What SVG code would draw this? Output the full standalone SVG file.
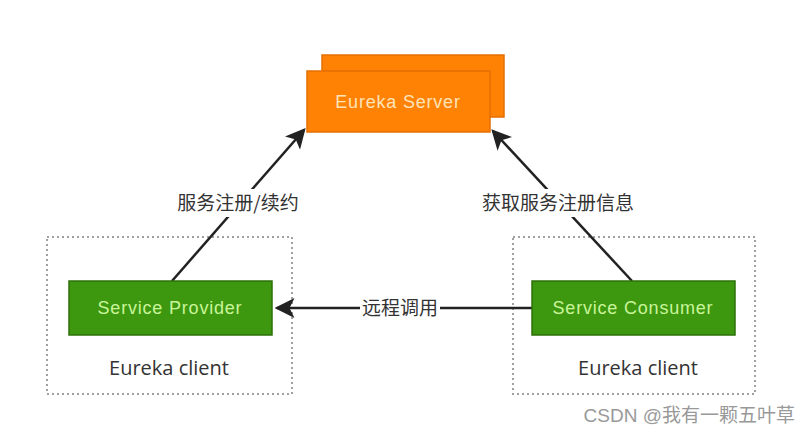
<svg xmlns="http://www.w3.org/2000/svg" width="810" height="437" viewBox="0 0 810 437">
<style>
.orange{fill:#FF8205;stroke:#E46F00;stroke-width:1.5}
.green{fill:#3E980F;stroke:#2C700A;stroke-width:1.5}
.dot{fill:none;stroke:#a0a0a0;stroke-width:2;stroke-dasharray:2 3}
.lt{font-family:"Liberation Sans",Arial,sans-serif;font-size:18px;letter-spacing:0.8px;text-anchor:middle}
.cl{font-family:"Open Sans","DejaVu Sans",sans-serif;font-size:20px;fill:#333;text-anchor:middle}
.cn{font-family:"Noto Sans CJK SC",sans-serif;font-size:19px;fill:#333;text-anchor:middle}
.conn{stroke:#222;stroke-width:2.5;fill:none;marker-end:url(#ah)}
</style>
<defs>
<marker id="ah" markerWidth="8" markerHeight="8" refX="7" refY="4" orient="auto" markerUnits="strokeWidth">
<path d="M0,0 L8,4 L0,8 L2,4 Z" fill="#222"/>
</marker>
</defs>
<rect width="810" height="437" fill="#fff"/>
<g id="provider-client">
<rect class="dot" x="47" y="237" width="245" height="157"/>
<text class="cl" x="169" y="375">Eureka client</text>
</g>
<g id="consumer-client">
<rect class="dot" x="513" y="237" width="242" height="157"/>
<text class="cl" x="638" y="375">Eureka client</text>
</g>
<g id="connectors">
<line class="conn" x1="172" y1="281" x2="304" y2="130"/>
<line class="conn" x1="632" y1="281" x2="493" y2="131"/>
<line class="conn" x1="532" y1="308" x2="277" y2="308"/>
<rect x="170" y="189" width="136" height="28" fill="#fff"/>
<text class="cn" x="238" y="210">服务注册/续约</text>
<rect x="478" y="189" width="160" height="28" fill="#fff"/>
<text class="cn" x="558" y="210">获取服务注册信息</text>
<rect x="360" y="295" width="80" height="26" fill="#fff"/>
<text class="cn" x="400" y="315">远程调用</text>
</g>
<g id="eureka-server">
<rect class="orange" x="322" y="55" width="182" height="62"/>
<rect class="orange" x="307" y="71" width="183" height="61"/>
<text class="lt" x="398" y="108" fill="#FFE3B8">Eureka Server</text>
</g>
<g id="service-provider">
<rect class="green" x="69" y="281" width="203" height="54"/>
<text class="lt" x="170" y="314" fill="#C9F59A">Service Provider</text>
</g>
<g id="service-consumer">
<rect class="green" x="532" y="281" width="203" height="54"/>
<text class="lt" x="633" y="314" fill="#C9F59A">Service Consumer</text>
</g>
<text x="795" y="422" font-family="'Liberation Sans','Noto Sans CJK SC',sans-serif" font-size="19" fill="#999" text-anchor="end">CSDN @我有一颗五叶草</text>
</svg>
